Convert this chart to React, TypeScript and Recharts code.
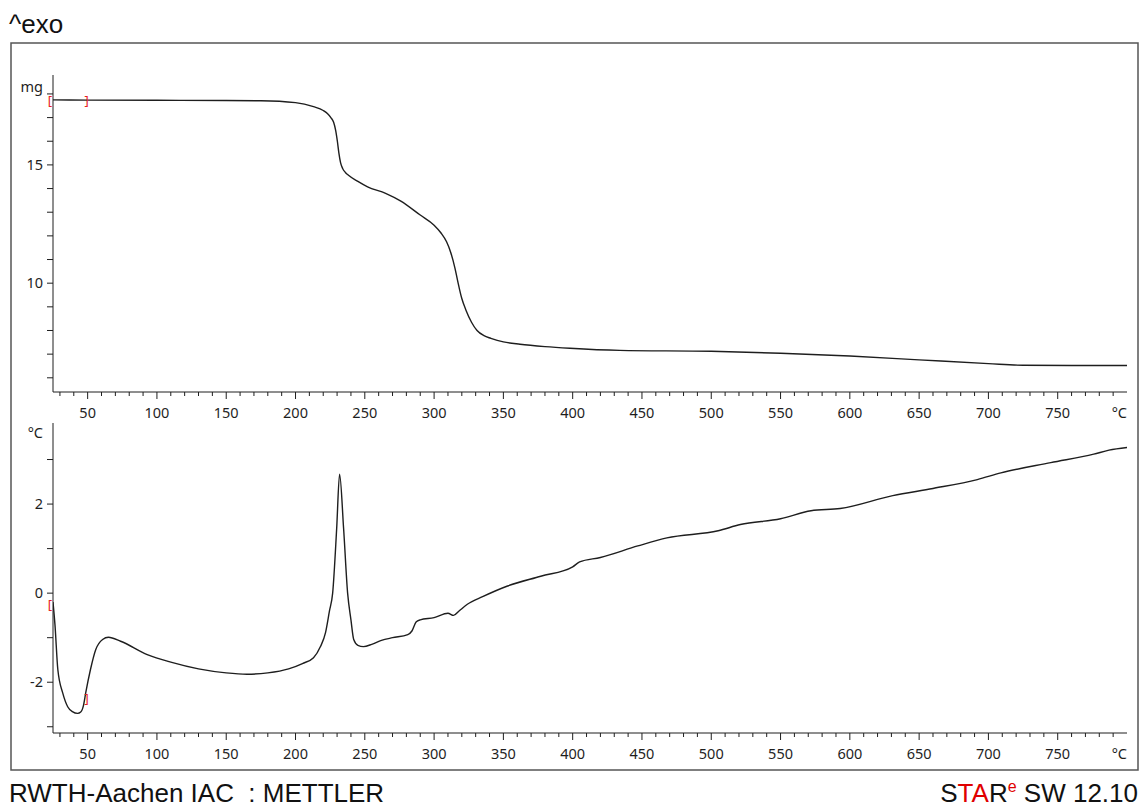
import { LineChart, Line, XAxis, YAxis, ReferenceDot } from "recharts";

// TGA mass curve (°C -> mg)
const massT = [25, 50, 100, 150, 175, 200, 213, 220, 223, 225.5, 227.5, 229, 230.2, 231.3, 232.5, 234, 236, 238, 245, 252, 265, 276, 290, 300, 305, 309, 312, 315, 317, 320, 323, 327, 331, 336, 341, 350, 362, 380, 398, 434, 500, 550, 600, 650, 700, 725, 760, 800];
const massMg = [17.75, 17.74, 17.73, 17.72, 17.71, 17.63, 17.46, 17.3, 17.17, 17.0, 16.8, 16.45, 16.0, 15.5, 15.1, 14.85, 14.68, 14.57, 14.3, 14.07, 13.8, 13.47, 12.88, 12.45, 12.12, 11.75, 11.3, 10.65, 10.1, 9.35, 8.86, 8.35, 8.0, 7.78, 7.67, 7.52, 7.42, 7.32, 7.25, 7.16, 7.12, 7.04, 6.92, 6.76, 6.6, 6.53, 6.52, 6.52];

// SDTA curve (°C -> delta °C)
const dtaT = [25, 26.4, 28.5, 32, 35.6, 39, 42.8, 45, 47, 48.6, 52, 55.8, 60.8, 65, 73.8, 93, 110, 130, 150, 165, 180, 195, 205, 213, 218, 221.7, 224.5, 226.8, 229.7, 231.8, 234.7, 237.6, 240, 242, 245, 249, 255, 262, 270, 281, 284, 287, 290, 300, 310, 314, 318, 324, 335, 353, 377, 400, 405, 420, 447, 468, 505, 521, 550, 572, 593, 631, 660, 692, 709, 745, 776, 787, 800];
const dtaVal = [-0.2, -0.7, -1.72, -2.24, -2.55, -2.66, -2.7, -2.67, -2.52, -2.24, -1.72, -1.27, -1.04, -0.99, -1.08, -1.38, -1.55, -1.7, -1.79, -1.82, -1.79, -1.7, -1.58, -1.45, -1.2, -0.88, -0.4, 0, 1.45, 2.67, 1.45, 0, -0.6, -1.04, -1.17, -1.2, -1.15, -1.06, -1.0, -0.93, -0.85, -0.65, -0.6, -0.55, -0.45, -0.5, -0.4, -0.25, -0.08, 0.16, 0.38, 0.59, 0.7, 0.8, 1.06, 1.24, 1.4, 1.54, 1.67, 1.85, 1.9, 2.19, 2.35, 2.55, 2.7, 2.93, 3.12, 3.21, 3.27];

// red evaluation brackets
const markT = [25, 50];
const markMass = [17.75, 17.74];
const markDta = [-0.25, -2.35];
const markGlyph = ["[", "]"];

const xMajor = [50, 100, 150, 200, 250, 300, 350, 400, 450, 500, 550, 600, 650, 700, 750];
const xTicks: number[] = [];
for (let v = 30; v <= 790; v += 10) xTicks.push(v);
xTicks.push(800);

const massTicks = [6, 7, 8, 9, 10, 11, 12, 13, 14, 15, 16, 17, 18];
const massLabels = [10, 15];
const dtaTicks = [-3, -2, -1, 0, 1, 2, 3];
const dtaLabels = [-2, 0, 2];

const massData = massT.map((t, i) => ({ t, v: massMg[i] }));
const dtaData = dtaT.map((t, i) => ({ t, v: dtaVal[i] }));

const INK = "#1e1e1e";
const FONT = "'Noto Sans', sans-serif";
const ARIAL = "'Liberation Sans', Arial, sans-serif";

const XTick = (props: any) => {
  const { x, y, payload } = props;
  const v = payload.value;
  if (v === 800) {
    return (
      <text x={x} y={y + 26} textAnchor="end" fontSize={14.5} fontFamily={FONT} fill={INK}>
        °C
      </text>
    );
  }
  const major = xMajor.includes(v);
  return (
    <g>
      <line x1={x} x2={x} y1={y} y2={y + (major ? 7 : 4)} stroke={INK} strokeWidth={1} />
      {major && (
        <text x={x} y={y + 26} textAnchor="middle" fontSize={14.5} fontFamily={FONT} fill={INK}>
          {v}
        </text>
      )}
    </g>
  );
};

const Bracket = (glyph: string, dx: number) => (props: any) => (
  <text x={props.cx + dx} y={props.cy + 5} textAnchor="middle" fontSize={13} fontFamily={FONT} fill="#e82020">
    {glyph}
  </text>
);

export default function App() {
  return (
    <div style={{ position: "absolute", left: 0, top: 0, width: 1143, height: 808, background: "#fff" }}>
      <svg width={1143} height={808} style={{ position: "absolute", left: 0, top: 0 }}>
        <text x={9} y={33} fontSize={26} fontFamily={ARIAL} fill="#111">
          ^exo
        </text>
        <rect x={11} y={43} width={1127} height={727} fill="none" stroke="#555" strokeWidth={1.5} />
        <text x={43} y={92} textAnchor="end" fontSize={14.5} fontFamily={FONT} fill={INK}>
          mg
        </text>
        <text x={43} y={438} textAnchor="end" fontSize={14.5} fontFamily={FONT} fill={INK}>
          °C
        </text>
        <text x={9} y={802} fontSize={26} fontFamily={ARIAL} fill="#111" style={{ whiteSpace: "pre" }}>
          {"RWTH-Aachen IAC  : METTLER"}
        </text>
        <text x={1138} y={802} textAnchor="end" fontSize={26} fontFamily={ARIAL} fill="#111">
          S<tspan fill="#e00000">TA</tspan>R<tspan fill="#e00000" fontSize={16} dy={-10}>e</tspan>
          <tspan dy={10}> SW 12.10</tspan>
        </text>
      </svg>

      <div style={{ position: "absolute", left: 0, top: 0 }}>
        <LineChart width={1143} height={430} data={massData} margin={{ top: 75, right: 16, bottom: 8, left: 13 }}>
          <XAxis
            dataKey="t"
            type="number"
            domain={[25, 800]}
            ticks={xTicks}
            interval={0}
            tick={<XTick />}
            tickLine={false}
            tickSize={0}
            tickMargin={0}
            height={30}
            stroke={INK}
            allowDataOverflow
          />
          <YAxis
            type="number"
            domain={[5.4, 18.8]}
            ticks={massTicks}
            interval={0}
            width={40}
            tickSize={6}
            tickMargin={4}
            stroke={INK}
            tick={{ fontSize: 14.5, fontFamily: FONT, fill: INK }}
            tickFormatter={(v: number) => (massLabels.includes(v) ? String(v) : "")}
            allowDataOverflow
          />
          <Line type="monotone" dataKey="v" stroke={INK} strokeWidth={1.4} dot={false} isAnimationActive={false} />
          {markT.map((t, i) => (
            <ReferenceDot key={i} x={t} y={markMass[i]} r={3} shape={Bracket(markGlyph[i], i === 0 ? -3 : -1)} ifOverflow="visible" />
          ))}
        </LineChart>
      </div>

      <div style={{ position: "absolute", left: 0, top: 0 }}>
        <LineChart width={1143} height={808} data={dtaData} margin={{ top: 423, right: 16, bottom: 45, left: 13 }}>
          <XAxis
            dataKey="t"
            type="number"
            domain={[25, 800]}
            ticks={xTicks}
            interval={0}
            tick={<XTick />}
            tickLine={false}
            tickSize={0}
            tickMargin={0}
            height={30}
            stroke={INK}
            allowDataOverflow
          />
          <YAxis
            type="number"
            domain={[-3.14, 3.82]}
            ticks={dtaTicks}
            interval={0}
            width={40}
            tickSize={6}
            tickMargin={4}
            stroke={INK}
            tick={{ fontSize: 14.5, fontFamily: FONT, fill: INK }}
            tickFormatter={(v: number) => (dtaLabels.includes(v) ? String(v) : "")}
            allowDataOverflow
          />
          <Line type="monotone" dataKey="v" stroke={INK} strokeWidth={1.4} dot={false} isAnimationActive={false} />
          {markT.map((t, i) => (
            <ReferenceDot key={i} x={t} y={markDta[i]} r={3} shape={Bracket(markGlyph[i], i === 0 ? -3 : -1)} ifOverflow="visible" />
          ))}
        </LineChart>
      </div>
    </div>
  );
}
